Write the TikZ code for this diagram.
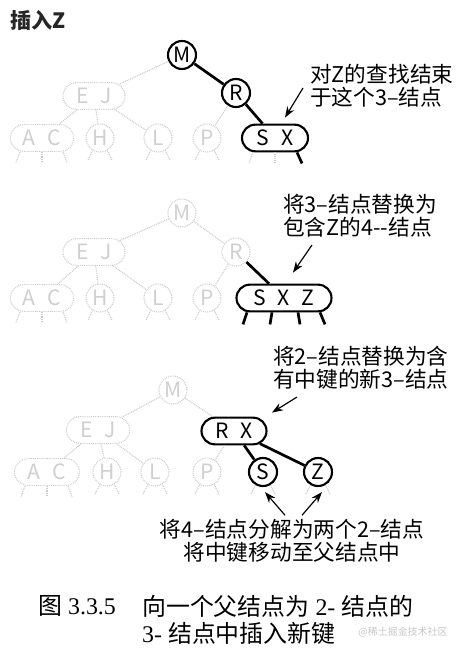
\documentclass[tikz,border=0pt]{standalone}
\usepackage{fontspec}
\setmainfont{Liberation Serif}
\newfontfamily\cjk{Noto Sans CJK SC}
\usepackage{tikz}
\usetikzlibrary{arrows.meta,positioning,shapes.misc}
\newcommand{\kgap}{\hspace{3.6mm}}

\begin{document}
\begin{tikzpicture}[
  x=0.3mm,y=-0.3mm,
  key/.style={draw,circle,line width=1.8pt,minimum size=8.4mm,inner sep=0pt,font=\cjk\fontsize{18}{18}\selectfont},
  pair/.style={draw,rounded rectangle,line width=1.8pt,minimum height=8mm,inner sep=0pt,font=\cjk\fontsize{18}{18}\selectfont},
  faded/.style={draw=gray!40,text=gray!38,line width=0.9pt,dash pattern=on 0.8pt off 0.8pt},
  link/.style={line width=2.3pt},
  ghost/.style={draw=gray!40,line width=1pt,dash pattern=on 0.8pt off 0.8pt},
  pointer/.style={-{Stealth[length=3.3mm,width=2.4mm]},line width=1pt},
  note/.style={font=\cjk\fontsize{18.5}{19.6}\selectfont,inner sep=0pt,align=left}
]
\useasboundingbox (0,0) rectangle (461,653);

\node[note,anchor=west,font=\cjk\bfseries\fontsize{18}{19}\selectfont,text=black!85] (title) at (10,20) {插入Z};

\node[key] (m1) at (182,55) {M};
\node[key] (r1) at (236,93) {R};
\node[pair,faded,minimum width=18.6mm] (ej1) at (94,96) {E\kgap J};
\node[pair,faded,minimum width=19mm] (ac1) at (42,138) {A\kgap C};
\node[key,faded] (h1) at (100,138) {H};
\node[key,faded] (l1) at (158,138) {L};
\node[key,faded] (p1) at (207,138) {P};
\node[pair,minimum width=19.8mm] (sx1) at (275,138) {S\kgap X};
\draw[ghost] (m1) -- (ej1);
\draw[link] (m1) -- (r1);
\draw[ghost] (r1) -- (p1);
\draw[link] (r1) -- (sx1);
\foreach \c in {ac1,h1,l1} \draw[ghost] (ej1) -- (\c);
\foreach \dx/\ex in {-6.6/-4,0/0,6.3/4} \draw[ghost] ([xshift=\dx mm]ac1.south) -- ++(\ex,11);
\foreach \nd in {h1,l1,p1} {
  \draw[ghost] (\nd.-120) -- ++(-5,10);
  \draw[ghost] (\nd.-60) -- ++(5,10);
}
\draw[ghost] ([xshift=-6.6mm]sx1.south) -- ++(-4,11);
\draw[ghost] (sx1.south) -- ++(0,11);
\draw[link] ([xshift=6.6mm]sx1.south) -- ++(5,11);
\node[note,anchor=north west] (q1) at (310,64) {对Z的查找结束\\于这个3–结点};
\draw[pointer] ([shift={(-7,24)}]q1.north west) -- ([shift={(10,-6)}]sx1.north);

\node[key,faded] (m2) at (182,213) {M};
\node[key,faded] (r2) at (236,252) {R};
\node[pair,faded,minimum width=18.6mm] (ej2) at (94,252) {E\kgap J};
\node[pair,faded,minimum width=19mm] (ac2) at (42,298) {A\kgap C};
\node[key,faded] (h2) at (100,298) {H};
\node[key,faded] (l2) at (158,298) {L};
\node[key,faded] (p2) at (207,298) {P};
\node[pair,minimum width=28.5mm] (sxz2) at (284,298) {S\kgap X\kgap Z};
\draw[ghost] (m2) -- (ej2);
\draw[ghost] (m2) -- (r2);
\draw[ghost] (r2) -- (p2);
\draw[link] (r2) -- (sxz2);
\foreach \c in {ac2,h2,l2} \draw[ghost] (ej2) -- (\c);
\foreach \dx/\ex in {-6.6/-4,0/0,6.3/4} \draw[ghost] ([xshift=\dx mm]ac2.south) -- ++(\ex,11);
\foreach \nd in {h2,l2,p2} {
  \draw[ghost] (\nd.-120) -- ++(-5,10);
  \draw[ghost] (\nd.-60) -- ++(5,10);
}
\foreach \dx/\ex in {-11.1/-4,-3.6/-2,4.2/2,10.8/5} \draw[link] ([xshift=\dx mm]sxz2.south) -- ++(\ex,12);
\node[note,anchor=north west] (q2) at (283,194) {将3–结点替换为\\包含Z的4-{}-结点};
\draw[pointer] ([shift={(29,51)}]q2.north west) -- ([shift={(9,-11)}]sxz2.north);

\node[key,faded] (m3) at (173,390) {M};
\node[pair,faded,minimum width=19mm] (ej3) at (98,430) {E\kgap J};
\node[pair,minimum width=19.5mm] (rx3) at (234,431) {R\kgap X};
\node[pair,faded,minimum width=19.5mm] (ac3) at (47,472) {A\kgap C};
\node[key,faded] (h3) at (107,472) {H};
\node[key,faded] (l3) at (155,472) {L};
\node[key,faded] (p3) at (207,472) {P};
\node[key] (s3) at (263,472) {S};
\node[key] (z3) at (318,472) {Z};
\draw[ghost] (m3) -- (ej3);
\draw[ghost] (m3) -- (rx3);
\draw[ghost] (rx3) -- (p3);
\draw[link] (rx3) -- (s3);
\draw[link] (rx3) -- (z3);
\foreach \c in {ac3,h3,l3} \draw[ghost] (ej3) -- (\c);
\foreach \dx/\ex in {-6.6/-4,0/0,6.3/4} \draw[ghost] ([xshift=\dx mm]ac3.south) -- ++(\ex,11);
\foreach \nd in {h3,l3,p3,s3,z3} {
  \draw[ghost] (\nd.-120) -- ++(-5,10);
  \draw[ghost] (\nd.-60) -- ++(5,10);
}
\node[note,anchor=north west] (q3) at (273,346) {将2–结点替换为含\\有中键的新3–结点};
\draw[pointer] ([shift={(24,51)}]q3.north west) -- ([shift={(38,-4)}]rx3.north);
\node[note,align=center] (split) at (292,541) {将4–结点分解为两个2–结点\\将中键移动至父结点中};
\draw[pointer] ([shift={(-7,-4)}]split.north) -- ([shift={(2,5)}]s3.south);
\draw[pointer] ([shift={(10,-4)}]split.north) -- ([shift={(4,5)}]z3.south);

\node[anchor=north west,inner sep=0pt,font=\fontsize{20.4}{19.6}\selectfont] (fignum) at (38,595) {{\cjk 图} 3.3.5};
\node[anchor=north west,inner sep=0pt,align=left,font=\fontsize{20.4}{23}\selectfont] (figtext) at (142,595)
  {{\cjk 向一个父结点为} 2- {\cjk 结点的}\\3- {\cjk 结点中插入新键}};
\node[font=\cjk\fontsize{8.5}{9}\selectfont,text=gray!45,inner sep=0pt] (wm) at (403,632) {@稀土掘金技术社区};
\end{tikzpicture}
\end{document}
